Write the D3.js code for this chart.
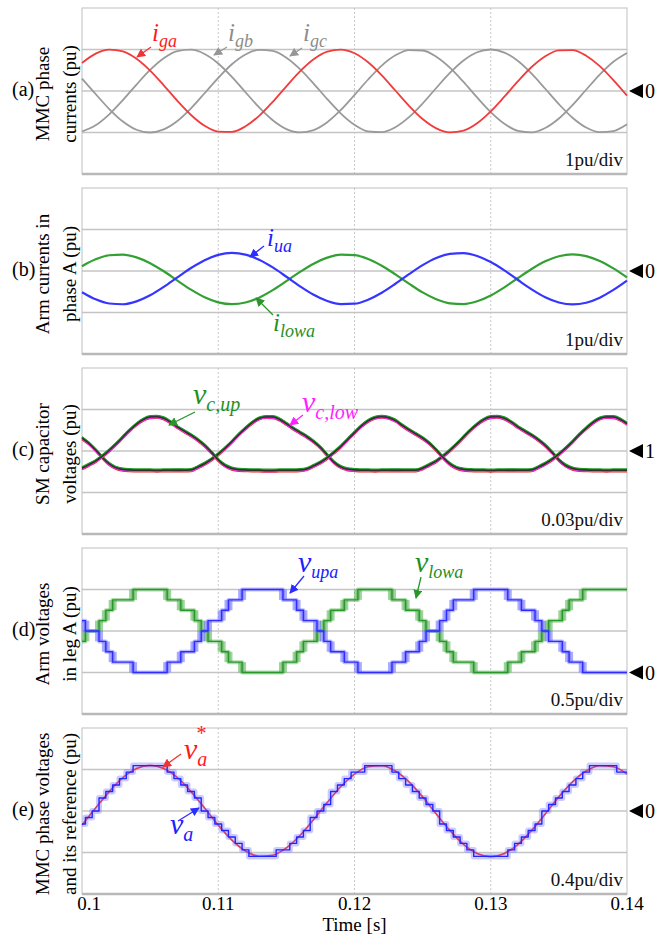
<!DOCTYPE html>
<html>
<head>
<meta charset="utf-8">
<script src="https://d3js.org/d3.v7.min.js"></script>
<style>
  body { margin: 0; background: #fff; }
  text { font-family: "Liberation Serif", "Times New Roman", serif; }
</style>
</head>
<body>
<div id="chart"></div>
<script>
// time axis (s)
const xTicks = [0.1, 0.11, 0.12, 0.13, 0.14];
const xTickLabels = ["0.1", "0.11", "0.12", "0.13", "0.14"];
const tStart = 0.1, dtCoarse = 0.001, dtFine = 0.0005;

// (a) MMC phase currents, pu, every 1 ms
const iga = [0.676, 0.900, 0.997, 0.955, 0.778, 0.492, 0.137, -0.237, -0.578, -0.838, -0.980,
  -0.985, -0.851, -0.598, -0.261, 0.113, 0.471, 0.763, 0.947, 0.999, 0.910,
  0.693, 0.379, 0.012, -0.357, -0.676, -0.900, -0.997, -0.955, -0.778, -0.492,
  -0.137, 0.237, 0.578, 0.838, 0.980, 0.985, 0.851, 0.598, 0.261, -0.113];
const igb = [-0.976, -0.828, -0.564, -0.220, 0.155, 0.508, 0.789, 0.960, 0.996, 0.892, 0.663,
  0.340, -0.030, -0.396, -0.705, -0.917, -0.999, -0.941, -0.751, -0.456, -0.096,
  0.277, 0.612, 0.860, 0.987, 0.976, 0.828, 0.564, 0.220, -0.155, -0.508,
  -0.789, -0.960, -0.996, -0.892, -0.663, -0.340, 0.030, 0.396, 0.705, 0.917];
const igc = [0.301, -0.072, -0.434, -0.735, -0.933, -1.000, -0.926, -0.723, -0.418, -0.054, 0.317,
  0.644, 0.880, 0.993, 0.966, 0.804, 0.528, 0.179, -0.196, -0.543, -0.814,
  -0.971, -0.991, -0.872, -0.631, -0.301, 0.072, 0.434, 0.735, 0.933, 1.000,
  0.926, 0.723, 0.418, 0.054, -0.317, -0.644, -0.880, -0.993, -0.966, -0.804];

// (b) arm currents in phase A, pu, every 1 ms
const iua = [-0.511, -0.682, -0.783, -0.801, -0.732, -0.586, -0.384, -0.153, 0.072, 0.261, 0.389,
  0.435, 0.394, 0.272, 0.086, -0.138, -0.369, -0.574, -0.724, -0.799, -0.788,
  -0.691, -0.524, -0.308, -0.076, 0.141, 0.312, 0.413, 0.431, 0.362, 0.216,
  0.014, -0.217, -0.442, -0.632, -0.759, -0.805, -0.764, -0.642, -0.456, -0.232];
const ilowa = [0.115, 0.281, 0.379, 0.396, 0.329, 0.188, -0.007, -0.231, -0.449, -0.632, -0.755,
  -0.800, -0.760, -0.642, -0.462, -0.245, -0.022, 0.177, 0.322, 0.395, 0.383,
  0.290, 0.128, -0.081, -0.305, -0.516, -0.681, -0.779, -0.796, -0.729, -0.588,
  -0.393, -0.169, 0.049, 0.233, 0.355, 0.400, 0.360, 0.242, 0.062, -0.155];

// (c) SM capacitor voltages, pu, every 0.5 ms
const vcUp = [0.9875, 0.9900, 0.9927, 0.9963, 1.0004, 1.0050, 1.0100, 1.0150, 1.0193, 1.0227,
  1.0245, 1.0248, 1.0236, 1.0208, 1.0173, 1.0143, 1.0114, 1.0080, 1.0040, 0.9990,
  0.9935, 0.9895, 0.9873, 0.9864, 0.9862, 0.9860, 0.9860, 0.9858, 0.9858, 0.9860,
  0.9860, 0.9860, 0.9862, 0.9870, 0.9892, 0.9917, 0.9950, 0.9990, 1.0033, 1.0083,
  1.0133, 1.0180, 1.0218, 1.0241, 1.0248, 1.0241, 1.0220, 1.0185, 1.0152, 1.0123,
  1.0093, 1.0055, 1.0007, 0.9953, 0.9906, 0.9878, 0.9866, 0.9862, 0.9860, 0.9860,
  0.9859, 0.9860, 0.9860, 0.9861, 0.9860, 0.9860, 0.9862, 0.9883, 0.9908, 0.9939,
  0.9977, 1.0020, 1.0067, 1.0118, 1.0164, 1.0205, 1.0235, 1.0246, 1.0245, 1.0228,
  1.0197];
const vcLow = [1.0093, 1.0055, 1.0007, 0.9953, 0.9906, 0.9878, 0.9866, 0.9862, 0.9860, 0.9860,
  0.9860, 0.9859, 0.9860, 0.9860, 0.9861, 0.9860, 0.9862, 0.9883, 0.9908, 0.9939,
  0.9977, 1.0020, 1.0067, 1.0118, 1.0164, 1.0205, 1.0235, 1.0246, 1.0245, 1.0228,
  1.0197, 1.0163, 1.0133, 1.0103, 1.0068, 1.0025, 0.9970, 0.9918, 0.9884, 0.9868,
  0.9863, 0.9860, 0.9860, 0.9859, 0.9860, 0.9860, 0.9861, 0.9860, 0.9860, 0.9860,
  0.9875, 0.9900, 0.9927, 0.9963, 1.0004, 1.0050, 1.0100, 1.0150, 1.0193, 1.0227,
  1.0245, 1.0248, 1.0236, 1.0208, 1.0173, 1.0143, 1.0114, 1.0080, 1.0040, 0.9990,
  0.9935, 0.9895, 0.9873, 0.9864, 0.9862, 0.9860, 0.9860, 0.9859, 0.9860, 0.9860,
  0.9860];

// (d) arm voltages in leg A, pu, every 0.5 ms (staircase levels)
const vUpa = [0.625, 0.5, 0.5, 0.375, 0.25, 0.125, 0.125, 0.125, 0, 0,
  0, 0, 0, 0.125, 0.125, 0.25, 0.25, 0.375, 0.5, 0.625,
  0.625, 0.75, 0.875, 0.875, 1, 1, 1, 1, 1, 1,
  0.875, 0.875, 0.75, 0.625, 0.625, 0.5, 0.375, 0.25, 0.25, 0.125,
  0.125, 0, 0, 0, 0, 0, 0.125, 0.125, 0.25, 0.25,
  0.375, 0.5, 0.5, 0.625, 0.75, 0.875, 0.875, 0.875, 1, 1,
  1, 1, 1, 0.875, 0.875, 0.75, 0.75, 0.625, 0.5, 0.375,
  0.375, 0.25, 0.125, 0.125, 0, 0, 0, 0, 0, 0,
  0];
const vLowa = [0.375, 0.5, 0.5, 0.625, 0.75, 0.875, 0.875, 0.875, 1, 1,
  1, 1, 1, 0.875, 0.875, 0.75, 0.75, 0.625, 0.5, 0.375,
  0.375, 0.25, 0.125, 0.125, 0, 0, 0, 0, 0, 0,
  0.125, 0.125, 0.25, 0.375, 0.375, 0.5, 0.625, 0.75, 0.75, 0.875,
  0.875, 1, 1, 1, 1, 1, 0.875, 0.875, 0.75, 0.75,
  0.625, 0.5, 0.5, 0.375, 0.25, 0.125, 0.125, 0.125, 0, 0,
  0, 0, 0, 0.125, 0.125, 0.25, 0.25, 0.375, 0.5, 0.625,
  0.625, 0.75, 0.875, 0.875, 1, 1, 1, 1, 1, 1,
  1];

// (e) phase voltage reference (every 1 ms) and measured (every 0.5 ms), pu
const vaRef = [-0.136, 0.028, 0.187, 0.321, 0.409, 0.440, 0.409, 0.321, 0.187, 0.028, -0.136,
  -0.280, -0.385, -0.436, -0.426, -0.356, -0.236, -0.082, 0.082, 0.236, 0.356,
  0.426, 0.436, 0.385, 0.280, 0.136, -0.028, -0.187, -0.321, -0.409, -0.440,
  -0.409, -0.321, -0.187, -0.028, 0.136, 0.280, 0.385, 0.436, 0.426, 0.356];
const va = [-0.125, -0.0625, 0, 0.125, 0.1875, 0.25, 0.3125, 0.375, 0.4375, 0.4375,
  0.4375, 0.4375, 0.4375, 0.375, 0.3125, 0.25, 0.1875, 0.125, 0, -0.0625,
  -0.125, -0.1875, -0.25, -0.3125, -0.375, -0.4375, -0.4375, -0.4375, -0.4375, -0.375,
  -0.375, -0.3125, -0.25, -0.1875, -0.0625, 0, 0.0625, 0.1875, 0.25, 0.3125,
  0.375, 0.375, 0.4375, 0.4375, 0.4375, 0.4375, 0.375, 0.3125, 0.25, 0.1875,
  0.125, 0.0625, 0, -0.125, -0.1875, -0.25, -0.3125, -0.375, -0.4375, -0.4375,
  -0.4375, -0.4375, -0.4375, -0.375, -0.3125, -0.25, -0.1875, -0.125, 0, 0.0625,
  0.125, 0.1875, 0.25, 0.3125, 0.375, 0.4375, 0.4375, 0.4375, 0.4375, 0.375,
  0.375];

// ---------- layout ----------
const W = 669, H = 937;
const left = 82, right = 627, panelH = 166, panelStep = 180, firstTop = 8;

const panels = [
  {tag: "(a)", ylab: ["MMC phase", "currents (pu)"], domain: [-2, 2], perDiv: "1pu/div", ref: 0, refText: "0"},
  {tag: "(b)", ylab: ["Arm currents in", "phase A (pu)"], domain: [-2, 2], perDiv: "1pu/div", ref: 0, refText: "0"},
  {tag: "(c)", ylab: ["SM capacitor", "voltages (pu)"], domain: [0.94, 1.06], perDiv: "0.03pu/div", ref: 1, refText: "1"},
  {tag: "(d)", ylab: ["Arm voltages", "in leg A (pu)"], domain: [-0.5, 1.5], perDiv: "0.5pu/div", ref: 0, refText: "0"},
  {tag: "(e)", ylab: ["MMC phase voltages", "and its reference (pu)"], domain: [-0.8, 0.8], perDiv: "0.4pu/div", ref: 0, refText: "0"}
];

const svg = d3.select("#chart").append("svg")
  .attr("width", W).attr("height", H);

const defs = svg.append("defs");
function arrowMarker(id, color) {
  defs.append("marker")
    .attr("id", id)
    .attr("viewBox", "0 0 10 10")
    .attr("refX", 9).attr("refY", 5)
    .attr("markerWidth", 9).attr("markerHeight", 9)
    .attr("markerUnits", "userSpaceOnUse")
    .attr("orient", "auto")
    .append("path").attr("d", "M0,0 L10,5 L0,10 Z").attr("fill", color);
}
const col = {
  red: "#f03434", grey: "#969696", blue: "#2d2dff", green: "#2a962a", magenta: "#ff22ff", black: "#222"
};
Object.entries(col).forEach(([k, c]) => arrowMarker("arr-" + k, c));

const x = d3.scaleLinear().domain([0.1, 0.14]).range([left, right]);

function tAt(dt) { return (d, i) => x(tStart + i * dt); }

panels.forEach((p, k) => {
  const top = firstTop + k * panelStep, bottom = top + panelH;
  p.top = top; p.bottom = bottom;
  p.y = d3.scaleLinear().domain(p.domain).range([bottom, top]);
  const g = svg.append("g");
  p.g = g;

  // horizontal grid (4 divisions)
  const step = (p.domain[1] - p.domain[0]) / 4;
  const hv = [1, 2, 3].map(j => p.domain[0] + j * step);
  g.selectAll(".hg").data(hv).join("line")
    .attr("x1", left).attr("x2", right)
    .attr("y1", d => p.y(d)).attr("y2", d => p.y(d))
    .attr("stroke", "#c4c4c4").attr("stroke-width", 1.4);
  // vertical grid, dotted
  g.selectAll(".vg").data(xTicks.slice(1, -1)).join("line")
    .attr("x1", d => x(d)).attr("x2", d => x(d))
    .attr("y1", top).attr("y2", bottom)
    .attr("stroke", "#c8c8c8").attr("stroke-width", 1)
    .attr("stroke-dasharray", "2,2");
  // frame
  g.append("rect").attr("x", left).attr("y", top)
    .attr("width", right - left).attr("height", panelH)
    .attr("fill", "none").attr("stroke", "#c0c0c0").attr("stroke-width", 1);
  g.append("line").attr("x1", left).attr("x2", right)
    .attr("y1", bottom).attr("y2", bottom)
    .attr("stroke", "#b8b8b8").attr("stroke-width", 2.5);

  // per-division label
  svg.append("text").attr("x", right - 4).attr("y", bottom - 8)
    .attr("text-anchor", "end").attr("font-size", 19).attr("fill", "#111")
    .text(p.perDiv);

  // reference marker
  const yr = p.y(p.ref);
  svg.append("path")
    .attr("d", `M${right + 2},${yr} L${right + 16},${yr - 7} L${right + 16},${yr + 7} Z`)
    .attr("fill", "#000");
  svg.append("text").attr("x", right + 18).attr("y", yr + 7)
    .attr("font-size", 20).text(p.refText);

  // panel tag and rotated axis title
  const cy = (top + bottom) / 2;
  svg.append("text").attr("x", 12).attr("y", cy + 5)
    .attr("font-size", 20).text(p.tag);
  [49, 76].forEach((bx, j) => {
    svg.append("text")
      .attr("transform", `translate(${bx},${cy + 3}) rotate(-90)`)
      .attr("text-anchor", "middle").attr("font-size", 19)
      .text(p.ylab[j]);
  });
});

// ---------- traces ----------
function path(g, data, dt, y, color, width, curve, extra) {
  const line = d3.line().x(tAt(dt)).y(d => y(d)).curve(curve || d3.curveMonotoneX);
  const el = g.append("path").datum(data)
    .attr("d", line).attr("fill", "none")
    .attr("stroke", color).attr("stroke-width", width)
    .attr("stroke-linejoin", "round");
  if (extra) extra(el);
  return el;
}

// (a)
const pa = panels[0];
path(pa.g, igb, dtCoarse, pa.y, "#9a9a9a", 1.8);
path(pa.g, igc, dtCoarse, pa.y, "#9a9a9a", 1.8);
path(pa.g, iga, dtCoarse, pa.y, "#f03c3c", 1.8);

// (b)
const pb = panels[1];
path(pb.g, ilowa, dtCoarse, pb.y, "#33a033", 2.2);
path(pb.g, iua, dtCoarse, pb.y, "#3535ff", 2.2);

// (c) bundle of capacitor voltages
const pc = panels[2];
const bundle = [
  {c: "#e02828", dy: 1.4}, {c: "#ff30ff", dy: 0.8}, {c: "#2a2ae0", dy: -0.7},
  {c: "#1f9a1f", dy: -1.3}, {c: "#303030", dy: 0}
];
[vcLow, vcUp].forEach(series => {
  bundle.forEach(b => {
    path(pc.g, series, dtFine, pc.y, b.c, 1.5, d3.curveMonotoneX,
      el => el.attr("transform", `translate(0,${b.dy})`));
  });
});

// (d) staircase arm voltages with switching bands at level changes
const pd = panels[3];
function stairs(g, data, y, color, light) {
  const tr = [];
  for (let i = 1; i < data.length; i++) {
    if (data[i] !== data[i - 1]) tr.push({t: tStart + (i - 0.5) * dtFine, a: data[i - 1], b: data[i]});
  }
  g.selectAll(null).data(tr).join("rect")
    .attr("x", d => x(d.t) - 4).attr("width", 8)
    .attr("y", d => y(Math.max(d.a, d.b)))
    .attr("height", d => Math.abs(y(d.a) - y(d.b)))
    .attr("fill", light).attr("opacity", 0.55);
  path(g, data, dtFine, y, light, 4, d3.curveStep, el => el.attr("opacity", 0.45));
  path(g, data, dtFine, y, color, 1.4, d3.curveStep);
}
stairs(pd.g, vLowa, pd.y, "#2a962a", "#4fb04f");
stairs(pd.g, vUpa, pd.y, "#2d2dff", "#6a6aff");

// (e)
const pe = panels[4];
path(pe.g, vaRef, dtCoarse, pe.y, "#ff2020", 1.6);
path(pe.g, va, dtFine, pe.y, "#7c7cff", 6, d3.curveStep, el => el.attr("opacity", 0.4));
path(pe.g, va, dtFine, pe.y, "#2525ff", 1.4, d3.curveStep);

// ---------- annotations ----------
function label(xp, yp, main, sub, color, mainSize, subSize, sup) {
  const t = svg.append("text").attr("x", xp).attr("y", yp)
    .attr("fill", color).attr("font-style", "italic");
  t.append("tspan").attr("font-size", mainSize).text(main);
  if (sup) {
    const sx = xp + mainSize * 0.42;
    svg.append("text").attr("x", sx).attr("y", yp - mainSize * 0.62)
      .attr("fill", color).attr("font-size", subSize).text(sup);
  }
  t.append("tspan").attr("font-size", subSize).attr("dy", subSize * 0.35).text(sub);
}
function arrow(x1, y1, x2, y2, key) {
  svg.append("line").attr("x1", x1).attr("y1", y1).attr("x2", x2).attr("y2", y2)
    .attr("stroke", col[key]).attr("stroke-width", 1.3)
    .attr("marker-end", `url(#arr-${key})`);
}

label(152, 41, "i", "ga", "#ff1a1a", 25, 18);
arrow(151, 47, 137, 57, "red");
label(228, 41, "i", "gb", "#8c8c8c", 25, 18);
arrow(227, 47, 214, 55, "grey");
label(303, 41, "i", "gc", "#8c8c8c", 25, 18);
arrow(302, 48, 290, 56, "grey");

label(267, 246, "i", "ua", "#2020ff", 25, 18);
arrow(264, 246, 250, 257, "blue");
label(273, 331, "i", "lowa", "#1f8f1f", 25, 18);
arrow(273, 315, 256, 298, "green");

label(193, 404, "v", "c,up", "#1f8f1f", 30, 20);
arrow(195, 412, 169, 425, "green");
label(302, 412, "v", "c,low", "#ff22ff", 30, 20);
arrow(303, 415, 290, 425, "magenta");

label(298, 572, "v", "upa", "#2020ff", 30, 18);
arrow(304, 576, 290, 593, "blue");
label(415, 572, "v", "lowa", "#1f8f1f", 30, 18);
arrow(421, 577, 416, 598, "green");

label(184, 759, "v", "a", "#ff1a1a", 30, 20, "*");
arrow(181, 754, 163, 767, "red");
label(170, 834, "v", "a", "#2020ff", 30, 20);
arrow(178, 821, 199, 808, "blue");

// ---------- time axis ----------
svg.selectAll(".xt").data(xTicks).join("text")
  .attr("x", (d, i) => x(d) + (i === 0 ? 7 : 0))
  .attr("y", 910).attr("text-anchor", "middle").attr("font-size", 19)
  .text((d, i) => xTickLabels[i]);
svg.append("text").attr("x", x(0.12)).attr("y", 931)
  .attr("text-anchor", "middle").attr("font-size", 19).text("Time [s]");
</script>
</body>
</html>
